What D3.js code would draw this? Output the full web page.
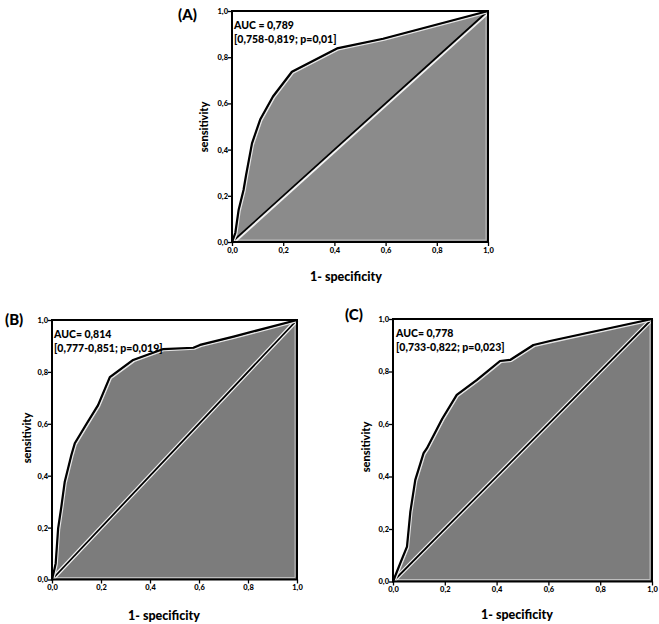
<!DOCTYPE html>
<html><head><meta charset="utf-8">
<script src="https://cdn.jsdelivr.net/npm/d3@7"></script>
<style>
body{margin:0;background:#fff;}
text{font-family:Lato,"Open Sans",sans-serif;font-weight:900;}
</style></head>
<body><svg id="chart" width="659" height="624"></svg>
<script>
// ---- data ----
const tickValues = [0, 0.2, 0.4, 0.6, 0.8, 1.0];
const tickLabels = ["0,0", "0,2", "0,4", "0,6", "0,8", "1,0"];
const panelNames = ["(A)", "(B)", "(C)"];
const aucLines = [
  ["AUC = 0,789", "[0,758-0,819; p=0,01]"],
  ["AUC= 0,814", "[0,777-0,851; p=0,019]"],
  ["AUC= 0,778", "[0,733-0,822; p=0,023]"]
];
const xTitle = "1- specificity";
const yTitle = "sensitivity";
const fprA = [0, 0.013, 0.026, 0.045, 0.055, 0.078, 0.11, 0.16, 0.234, 0.41, 0.59, 1];
const tprA = [0, 0.04, 0.14, 0.225, 0.29, 0.427, 0.53, 0.63, 0.737, 0.838, 0.88, 1];
const fprB = [0, 0.01, 0.015, 0.025, 0.038, 0.052, 0.079, 0.093, 0.141, 0.188, 0.236, 0.331, 0.454, 0.577, 0.604, 0.741, 1];
const tprB = [0, 0.04, 0.062, 0.197, 0.28, 0.377, 0.48, 0.525, 0.60, 0.672, 0.78, 0.846, 0.888, 0.893, 0.904, 0.936, 1];
const fprC = [0, 0.028, 0.054, 0.067, 0.086, 0.118, 0.131, 0.19, 0.246, 0.324, 0.413, 0.452, 0.542, 0.606, 1];
const tprC = [0, 0.07, 0.133, 0.266, 0.387, 0.489, 0.508, 0.62, 0.711, 0.768, 0.84, 0.844, 0.901, 0.916, 1];

// ---- layout ----
const layouts = [
  {x0:232, x1:488, yT:11, yB:242, fill:"#8b8b8b", lab:[178,20], auc:[234,29], xt:[346,281], yt:[204,127]},
  {x0:52, x1:297, yT:320, yB:579.5, fill:"#7c7c7c", lab:[5,325], auc:[54,338], xt:[164,620], yt:[27,438]},
  {x0:393, x1:652, yT:319, yB:581.5, fill:"#7c7c7c", lab:[345,320], auc:[396,337], xt:[517,619], yt:[366,447]}
];
const series = [[fprA,tprA],[fprB,tprB],[fprC,tprC]];

const svg = d3.select("#chart");

layouts.forEach((L, i) => {
  const x = d3.scaleLinear().domain([0,1]).range([L.x0, L.x1]);
  const y = d3.scaleLinear().domain([0,1]).range([L.yB, L.yT]);
  const pts = series[i][0].map((f, k) => [f, series[i][1][k]]);
  const g = svg.append("g");

  const poly = pts.concat([[1,0]]);
  g.append("path")
    .attr("d", d3.line().x(d=>x(d[0])).y(d=>y(d[1]))(poly) + "Z")
    .attr("fill", L.fill).attr("stroke", "#c9c9c9").attr("stroke-width", 1);
  g.append("path")
    .attr("d", `M${x(0.012)},${y(0)-2}H${x(1)-2}V${y(1)+2}`)
    .attr("fill","none").attr("stroke","#bdbdbd").attr("stroke-width",1);

  const diag = d3.line().x(d=>x(d[0])).y(d=>y(d[1]))([[0,0],[1,1]]);
  g.append("path").attr("d", diag).attr("stroke", "#f2f2f2").attr("stroke-width", i===0?3:4.2).attr("fill","none")
    .attr("transform", i===0 ? "translate(1,1)" : null);
  g.append("path").attr("d", diag).attr("stroke", "#000").attr("stroke-width", 1.8).attr("fill","none");

  const curve = d3.line().x(d=>x(d[0])).y(d=>y(d[1]));
  g.append("path").attr("d", curve(pts)).attr("stroke", "#e6e6e6").attr("stroke-width", 1.6).attr("fill","none")
    .attr("transform","translate(1.3,1.3)");
  g.append("path").attr("d", curve(pts)).attr("stroke", "#000").attr("stroke-width", 2.2).attr("fill","none")
    .attr("stroke-linejoin","round");

  g.append("rect").attr("x", L.x0).attr("y", L.yT).attr("width", L.x1-L.x0).attr("height", L.yB-L.yT)
    .attr("fill","none").attr("stroke","#000").attr("stroke-width",2);

  const xAxis = d3.axisBottom(x).tickValues(tickValues).tickFormat((d,k)=>tickLabels[k]).tickSize(4).tickSizeOuter(0);
  const yAxis = d3.axisLeft(y).tickValues(tickValues).tickFormat((d,k)=>tickLabels[k]).tickSize(4).tickSizeOuter(0);
  const gx = g.append("g").attr("transform", `translate(0,${L.yB})`).call(xAxis);
  const gy = g.append("g").attr("transform", `translate(${L.x0},0)`).call(yAxis);
  [gx, gy].forEach(a => {
    a.select(".domain").remove();
    a.selectAll(".tick line").attr("stroke","#000").attr("stroke-width",1.3);
    a.selectAll(".tick text").attr("fill","#000").style("font-size","7.5px").style("font-weight","900");
  });
  gx.selectAll(".tick text").attr("dy","0.9em").attr("y",4);
  gy.selectAll(".tick text").attr("x",-4);

  g.append("text").attr("x", L.lab[0]).attr("y", L.lab[1]).text(panelNames[i])
    .style("font-size","15px").attr("fill","#000");
  g.append("text").attr("x", L.auc[0]).attr("y", L.auc[1]).text(aucLines[i][0])
    .style("font-size","10.5px").attr("fill","#000");
  g.append("text").attr("x", L.auc[0]).attr("y", L.auc[1]+14).text(aucLines[i][1])
    .style("font-size","10.5px").attr("fill","#000");
  g.append("text").attr("x", L.xt[0]).attr("y", L.xt[1]).attr("text-anchor","middle").text(xTitle)
    .style("font-size","12.5px").attr("fill","#000");
  g.append("text").attr("transform", `translate(${L.yt[0]},${L.yt[1]}) rotate(-90)`).attr("text-anchor","middle")
    .attr("dy","0.35em").text(yTitle).style("font-size","11px").attr("fill","#000");
});
</script></body></html>
